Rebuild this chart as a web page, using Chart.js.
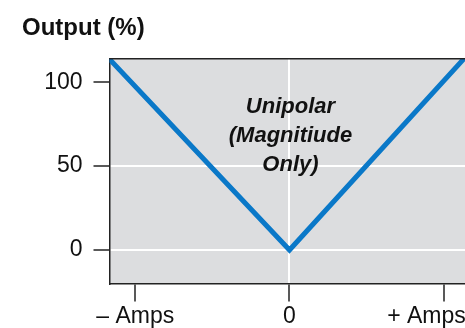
<!DOCTYPE html>
<html>
<head>
<meta charset="utf-8">
<script src="https://cdn.jsdelivr.net/npm/chart.js@4.4.1/dist/chart.umd.min.js"></script>
<style>
  html, body { margin: 0; padding: 0; background: #fff; }
  #wrap { width: 465px; height: 328px; }
</style>
</head>
<body>
<div id="wrap"><canvas id="chart"></canvas></div>
<script>
// current vs output, magnitude only
const amps = [-1.2, 0, 1.2];
const output = [117, 0, 121];

const xTicks = [-1, 0, 1];
const xLabels = ['– Amps', '0', '+ Amps\u2003\u2002'];
const yTicks = [0, 50, 100];
const note = ['Unipolar', '(Magnitiude', 'Only)'];

const tickFont = { family: "'Liberation Sans', Arial, sans-serif", size: 23 };

// grey plot background + top frame line
const plotFrame = {
  id: 'plotFrame',
  beforeDraw(chart) {
    const { ctx, chartArea: a } = chart;
    ctx.save();
    ctx.fillStyle = '#dcdddf';
    ctx.fillRect(a.left, a.top, a.right - a.left, a.bottom - a.top);
    ctx.restore();
  },
  afterDraw(chart) {
    const { ctx, chartArea: a } = chart;
    ctx.save();
    ctx.strokeStyle = '#222';
    ctx.lineWidth = 1.5;
    ctx.beginPath();
    ctx.moveTo(a.left, a.top);
    ctx.lineTo(a.right, a.top);
    ctx.stroke();
    ctx.restore();
  }
};

// italic note in the middle of the V
const noteText = {
  id: 'noteText',
  afterDatasetsDraw(chart) {
    const { ctx, scales } = chart;
    const x = scales.x.getPixelForValue(0) + 1;
    const rows = [85, 68, 51];
    ctx.save();
    ctx.font = "italic bold 22px 'Liberation Sans', Arial, sans-serif";
    ctx.fillStyle = '#111';
    ctx.textAlign = 'center';
    ctx.textBaseline = 'middle';
    note.forEach((t, i) => ctx.fillText(t, x, scales.y.getPixelForValue(rows[i])));
    ctx.restore();
  }
};

new Chart(document.getElementById('chart'), {
  type: 'line',
  data: {
    datasets: [{
      data: amps.map((a, i) => ({ x: a, y: output[i] })),
      borderColor: '#0a78c8',
      borderWidth: 5,
      pointRadius: 0,
      borderJoinStyle: 'miter',
      clip: 0,
      tension: 0
    }]
  },
  options: {
    responsive: true,
    maintainAspectRatio: false,
    animation: false,
    layout: { padding: { left: 22, right: 0, top: 0, bottom: 0 } },
    plugins: {
      legend: { display: false },
      tooltip: { enabled: false },
      title: {
        display: true,
        text: 'Output (%)',
        align: 'start',
        color: '#111',
        font: { family: "'Liberation Sans', Arial, sans-serif", size: 24, weight: 'bold' },
        padding: { top: 14, bottom: 16 }
      }
    },
    scales: {
      x: {
        type: 'linear',
        min: -1.167,
        max: 1.138,
        afterBuildTicks: s => { s.ticks = xTicks.map(v => ({ value: v })); },
        afterFit: s => { s.height = 44.5; s.paddingLeft = 0; s.paddingRight = 0; },
        ticks: {
          autoSkip: false,
          maxRotation: 0,
          color: '#111',
          font: tickFont,
          padding: 1,
          callback: v => xLabels[xTicks.indexOf(v)]
        },
        grid: {
          color: c => (c.tick && c.tick.value === 0) ? '#fff' : 'rgba(0,0,0,0)',
          lineWidth: 2,
          tickColor: '#222',
          tickWidth: 1.5,
          tickLength: 18
        },
        border: { display: true, color: '#222', width: 1.5 }
      },
      y: {
        min: -20,
        max: 114,
        afterBuildTicks: s => { s.ticks = yTicks.map(v => ({ value: v })); },
        afterFit: s => { s.width = 87.5; },
        ticks: {
          color: '#111',
          font: tickFont,
          padding: 11
        },
        grid: {
          color: c => (c.tick && c.tick.value === 100) ? 'rgba(0,0,0,0)' : '#fff',
          lineWidth: 2,
          tickColor: '#222',
          tickWidth: 1.5,
          tickLength: 16
        },
        border: { display: true, color: '#222', width: 1.5 }
      }
    }
  },
  plugins: [plotFrame, noteText]
});
</script>
</body>
</html>
